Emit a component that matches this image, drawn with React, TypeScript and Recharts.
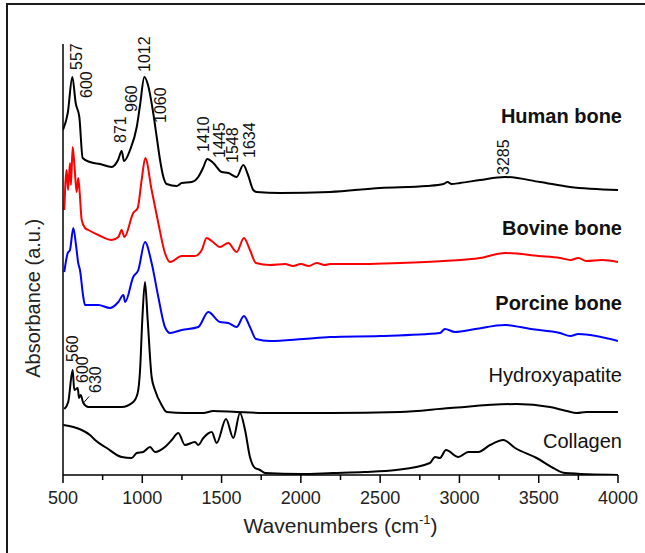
import React from 'react';
import { LineChart, Line, XAxis, YAxis, ReferenceDot, ReferenceLine } from 'recharts';

// wavenumber (cm-1), stacked absorbance offset (a.u.)
const humanBone: [number, number][] = [
  [500, 345], [530, 362], [559, 398], [580, 372], [603, 358], [624, 317], [670, 313], [733, 311],
  [807, 308], [847, 315], [870, 324], [885, 314], [923, 325], [965, 348], [986, 370], [1013, 398],
  [1036, 390], [1069, 362], [1091, 338], [1112, 315], [1133, 298], [1154, 291], [1217, 289],
  [1249, 292], [1312, 293], [1353, 298], [1383, 307], [1410, 316], [1448, 312], [1501, 303],
  [1543, 302], [1595, 298], [1637, 310], [1667, 300], [1700, 285], [1722, 283], [1868, 282],
  [2184, 283], [2499, 287], [2795, 289], [2900, 291], [2925, 293], [2950, 291], [3004, 292],
  [3130, 295], [3287, 298], [3508, 293], [3697, 288], [4000, 285],
];

const bovineBone: [number, number][] = [
  [508, 265], [523, 305], [532, 285], [544, 312], [550, 290], [561, 328], [572, 310], [586, 283],
  [596, 297], [604, 285], [618, 255], [639, 247], [660, 245], [723, 240], [807, 235], [849, 238],
  [870, 245], [887, 238], [943, 262], [971, 267], [996, 295], [1019, 317], [1059, 285],
  [1101, 252], [1143, 222], [1175, 213], [1249, 219], [1332, 219], [1375, 225], [1406, 237],
  [1438, 234], [1490, 228], [1542, 232], [1595, 223], [1641, 237], [1679, 225], [1717, 212],
  [1805, 210], [1900, 211], [1950, 209], [2000, 211], [2050, 209], [2100, 212], [2150, 210],
  [2184, 211], [2400, 211], [2625, 212], [2900, 214], [3130, 217], [3287, 222], [3500, 219],
  [3634, 217], [3700, 215], [3750, 217], [3800, 214], [3900, 215], [4000, 213],
];

const porcineBone: [number, number][] = [
  [508, 203], [530, 222], [544, 225], [565, 247], [582, 230], [596, 212], [607, 205], [628, 178],
  [639, 170], [723, 170], [796, 167], [849, 173], [881, 180], [892, 173], [943, 198], [975, 205],
  [1017, 233], [1059, 212], [1101, 178], [1143, 148], [1175, 142], [1249, 145], [1353, 148],
  [1416, 163], [1490, 153], [1542, 152], [1595, 148], [1641, 159], [1679, 148], [1717, 136],
  [1805, 134], [2014, 136], [2184, 138], [2500, 139], [2877, 142], [2909, 146], [2972, 143],
  [3100, 146], [3287, 150], [3450, 146], [3634, 142], [3700, 139], [3750, 141], [4000, 134],
];

const hydroxyapatite: [number, number][] = [
  [508, 66], [533, 73], [561, 105], [571, 85], [593, 87], [601, 77], [612, 80], [628, 72],
  [660, 68], [870, 68], [943, 73], [971, 82], [986, 105], [1000, 155], [1017, 193], [1034, 155],
  [1059, 98], [1080, 85], [1122, 70], [1154, 63], [1269, 62], [1385, 62], [1448, 64], [1595, 63],
  [1805, 62], [2184, 62], [2625, 63], [2941, 67], [3361, 71], [3571, 68], [3676, 64], [3740, 62],
  [3800, 63], [4000, 63],
];

const collagen: [number, number][] = [
  [502, 50], [565, 48], [618, 45], [670, 40], [702, 35], [776, 27], [870, 18], [933, 17],
  [965, 22], [1006, 23], [1049, 28], [1080, 23], [1143, 28], [1186, 35], [1227, 42], [1269, 30],
  [1332, 33], [1353, 30], [1385, 37], [1438, 43], [1469, 32], [1528, 56], [1574, 37], [1616, 62],
  [1648, 45], [1679, 18], [1711, 7], [1742, 5], [1774, 2], [2000, 1], [2200, 2], [2400, 3],
  [2600, 5], [2814, 12], [2846, 18], [2877, 17], [2915, 25], [2993, 18], [3056, 23], [3119, 23],
  [3193, 30], [3277, 35], [3351, 27], [3487, 17], [3592, 7], [3666, 2], [4000, 0],
];

const xTicks = [500, 750, 1000, 1250, 1500, 1750, 2000, 2250, 2500, 2750, 3000, 3250, 3500, 3750, 4000];

// peak annotations: label, wavenumber, bottom of text
const peakLabels: [string, number, number][] = [
  ['557', 588, 405], ['600', 651, 377], ['871', 863, 332], ['960', 932, 363], ['1012', 1017, 403],
  ['1060', 1118, 352], ['1410', 1389, 323], ['1445', 1484, 317], ['1548', 1569, 312],
  ['1634', 1673, 317], ['3285', 3281, 300], ['560', 560, 113], ['600', 626, 92], ['630', 702, 82],
];

const seriesLabels: [string, number, boolean][] = [
  ['Human bone', 359, true], ['Bovine bone', 247, true], ['Porcine bone', 172, true],
  ['Hydroxyapatite', 100, false], ['Collagen', 34, false],
];

const toRows = (arr: [number, number][]) => arr.map(([w, v]) => ({ w, v }));

const font = 'Arial, "Liberation Sans", sans-serif';

const XTick = (props: any) => {
  const { x, y, payload } = props;
  const major = payload.value % 500 === 0;
  return (
    <g>
      <line x1={x} y1={y} x2={x} y2={y + (major ? 8 : 5)} stroke="#000" strokeWidth={1.5} />
      {major && (
        <text x={x} y={y + 29} textAnchor="middle" fontSize={18} fill="#222" fontFamily={font}>
          {payload.value}
        </text>
      )}
    </g>
  );
};

const rotatedLabel = (text: string) => (p: any) => {
  const { x, y } = p.viewBox;
  return (
    <text
      transform={`translate(${x},${y}) rotate(-90)`}
      textAnchor="start"
      dominantBaseline="central"
      fontSize={16}
      fill="#111"
      fontFamily={font}
    >
      {text}
    </text>
  );
};

const sideLabel = (text: string, bold: boolean) => (p: any) => {
  const { x, y } = p.viewBox;
  return (
    <text
      x={x + 4}
      y={y}
      textAnchor="end"
      dominantBaseline="central"
      fontSize={20}
      fontWeight={bold ? 'bold' : 'normal'}
      fill="#111"
      fontFamily={font}
    >
      {text}
    </text>
  );
};

export default function App() {
  return (
    <div style={{ position: 'absolute', left: 0, top: 0, width: 645, height: 553, overflow: 'hidden', background: '#fff' }}>
      <div style={{ position: 'absolute', left: 6, top: 3, width: 700, height: 600, border: '2px solid #1a1a1a' }} />
      <LineChart width={645} height={553} margin={{ top: 44, right: 27, bottom: 48, left: 62 }} style={{ position: 'absolute', left: 0, top: 0 }}>
        <XAxis
          type="number"
          dataKey="w"
          domain={[500, 4000]}
          ticks={xTicks}
          interval={0}
          height={30}
          tickSize={0}
          tickMargin={0}
          tickLine={false}
          tick={<XTick />}
          stroke="#000"
          strokeWidth={1.5}
          allowDataOverflow
          label={(p: any) => {
            const { x, width, y } = p.viewBox;
            return (
              <text x={x + width / 2} y={y + 58} textAnchor="middle" fontSize={21} fill="#222" fontFamily={font}>
                Wavenumbers (cm
                <tspan fontSize={13} dy={-9}>-1</tspan>
                <tspan dy={9}>)</tspan>
              </text>
            );
          }}
        />
        <YAxis
          type="number"
          domain={[0, 431]}
          width={1}
          tick={false}
          tickLine={false}
          stroke="#000"
          strokeWidth={1.5}
          allowDataOverflow
          label={(p: any) => {
            const { x, y, height } = p.viewBox;
            return (
              <text
                transform={`translate(${x - 29},${y + height * 0.59}) rotate(-90)`}
                textAnchor="middle"
                dominantBaseline="central"
                fontSize={20}
                fill="#222"
                fontFamily={font}
              >
                Absorbance (a.u.)
              </text>
            );
          }}
        />
        <Line data={toRows(collagen)} dataKey="v" type="monotone" stroke="#000" strokeWidth={2} dot={false} isAnimationActive={false} />
        <Line data={toRows(hydroxyapatite)} dataKey="v" type="monotone" stroke="#000" strokeWidth={2} dot={false} isAnimationActive={false} />
        <Line data={toRows(porcineBone)} dataKey="v" type="monotone" stroke="#0000ff" strokeWidth={2} dot={false} isAnimationActive={false} />
        <Line data={toRows(bovineBone)} dataKey="v" type="monotone" stroke="#ff0000" strokeWidth={2} dot={false} isAnimationActive={false} />
        <Line data={toRows(humanBone)} dataKey="v" type="monotone" stroke="#000" strokeWidth={2} dot={false} isAnimationActive={false} />
        <ReferenceLine
          segment={[{ x: 629, y: 72 }, { x: 664, y: 78.5 }]}
          stroke="#000"
          strokeWidth={1}
        />
        {peakLabels.map(([t, w, v], i) => (
          <ReferenceDot key={'p' + i} x={w} y={v} r={0} fill="none" stroke="none" ifOverflow="visible" label={rotatedLabel(t)} />
        ))}
        {seriesLabels.map(([t, v, b], i) => (
          <ReferenceDot key={'s' + i} x={4000} y={v} r={0} fill="none" stroke="none" ifOverflow="visible" label={sideLabel(t, b)} />
        ))}
      </LineChart>
    </div>
  );
}
